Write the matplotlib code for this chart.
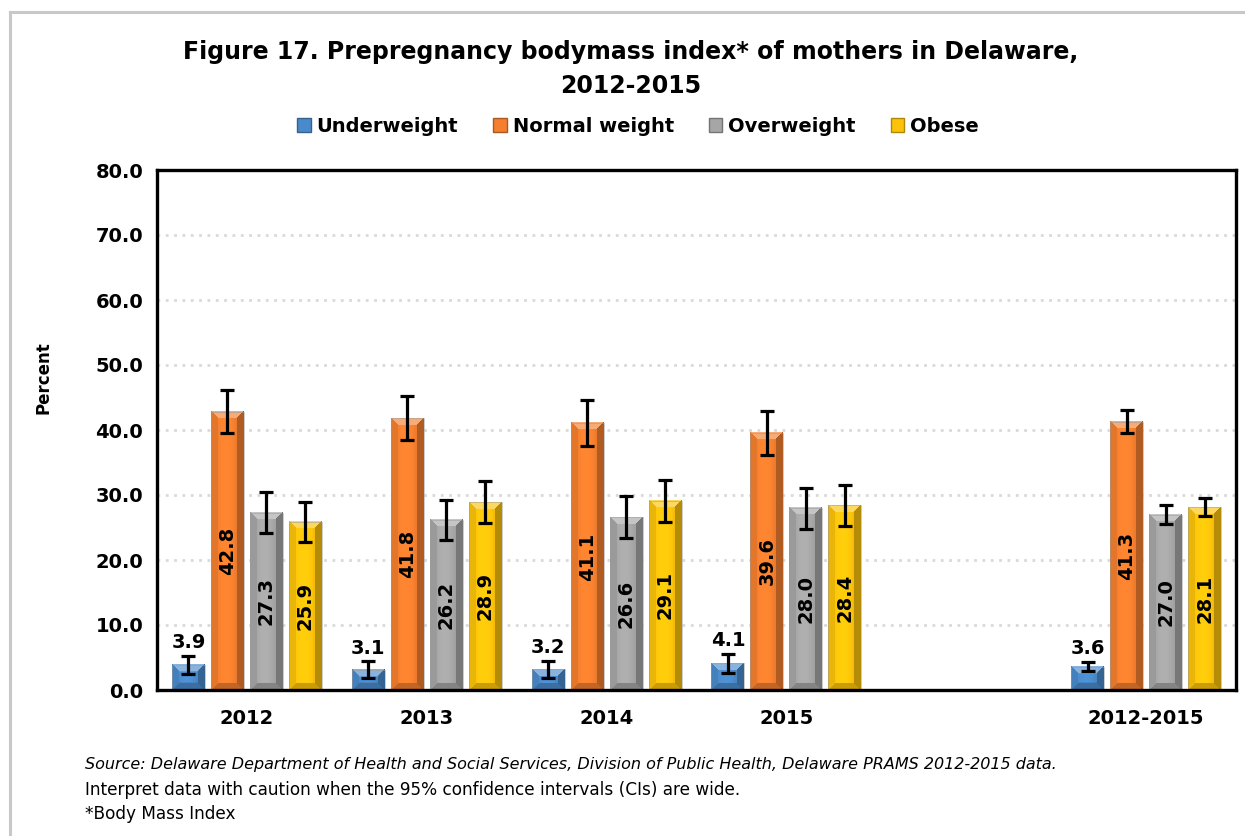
import numpy as np
import matplotlib
matplotlib.use("Agg")
import matplotlib.pyplot as plt
import matplotlib.colors as mcolors
from matplotlib.patches import Patch, Rectangle
from matplotlib.lines import Line2D

# data (percent, with 95% CI)
categories = ['2012', '2013', '2014', '2015', '2012-2015']
series = ['Underweight', 'Normal weight', 'Overweight', 'Obese']

underweight = [3.9, 3.1, 3.2, 4.1, 3.6]
under_lo = [2.5, 1.8, 1.8, 2.6, 2.9]
under_hi = [5.3, 4.4, 4.5, 5.5, 4.3]

normal = [42.8, 41.8, 41.1, 39.6, 41.3]
normal_lo = [39.5, 38.4, 37.6, 36.2, 39.5]
normal_hi = [46.2, 45.2, 44.6, 43.0, 43.1]

overweight = [27.3, 26.2, 26.6, 28.0, 27.0]
over_lo = [24.2, 23.1, 23.4, 24.8, 25.5]
over_hi = [30.4, 29.2, 29.8, 31.1, 28.5]

obese = [25.9, 28.9, 29.1, 28.4, 28.1]
obese_lo = [22.8, 25.7, 25.9, 25.3, 26.7]
obese_hi = [29.0, 32.1, 32.3, 31.5, 29.6]

values = [underweight, normal, overweight, obese]
lows = [under_lo, normal_lo, over_lo, obese_lo]
highs = [under_hi, normal_hi, over_hi, obese_hi]

colors = ['#4A8ACB', '#F47F2E', '#A6A6A6', '#FCC30A']

W, H = 1245, 836
fig = plt.figure(figsize=(W / 100, H / 100), dpi=100)
fig.patch.set_facecolor('white')

# light grey frame round the chart (left + top)
fig.add_artist(Line2D([10 / W, 10 / W], [0, 1 - 12 / H], transform=fig.transFigure,
                      color='#C8C8C8', lw=2.2))
fig.add_artist(Line2D([10 / W, 1], [1 - 12 / H, 1 - 12 / H], transform=fig.transFigure,
                      color='#C8C8C8', lw=2.2))

ax = fig.add_axes([157 / W, 1 - 690 / H, (1236 - 157) / W, (690 - 170) / H])
ax.set_xlim(-0.5, 5.5)
ax.set_ylim(0, 80)

# 6 slots, slot 4 left empty
slots = np.array([0, 1, 2, 3, 5])
pitch = 0.217
bw = 0.183

ax.set_yticks(np.arange(0, 81, 10))
ax.set_yticklabels([f'{v:.1f}' for v in np.arange(0, 81, 10)],
                   fontsize=14, fontweight='bold')
ax.tick_params(axis='y', length=0, pad=10)
ax.set_xticks(slots)
ax.set_xticklabels(categories, fontsize=14, fontweight='bold')
ax.tick_params(axis='x', length=0, pad=14)
for s in ax.spines.values():
    s.set_linewidth(2.4)
    s.set_color('black')
for yv in range(10, 80, 10):
    ax.axhline(yv, color='#D9D9D9', lw=2, ls=(0, (1, 2)), zorder=0)

ax.set_ylabel('Percent', fontsize=12, fontweight='bold')
ax.yaxis.set_label_coords(-104 / (1236 - 157), (690 - 378) / (690 - 170))


def bevel_img(color, wpx, hpx, b=7):
    base = np.array(mcolors.to_rgb(color))
    yy, xx = np.mgrid[0:hpx, 0:wpx] + 0.5
    d = np.stack([xx, wpx - xx, yy, hpx - yy])
    near = d.argmin(0)
    dmin = d.min(0)
    u = xx / wpx
    center = 1.06 - 0.9 * (u - 0.45) ** 2
    fac = np.array([0.93, 0.72, 1.0, 0.8])
    shade = np.where(dmin < b, fac[near], center)
    rgb = np.clip(base * shade[..., None], 0, 1)
    top = (dmin < b) & (near == 2)
    rgb[top] = rgb[top] + (1 - rgb[top]) * 0.35
    return rgb


fig.canvas.draw()
for i, (vals, lo, hi, c) in enumerate(zip(values, lows, highs, colors)):
    xs = slots + (i - 1.5) * pitch
    bars = ax.bar(xs, vals, width=bw, color=c, edgecolor='none', zorder=2)
    for rect in bars:
        x0, y0 = rect.get_x(), rect.get_y()
        w, h = rect.get_width(), rect.get_height()
        p0 = ax.transData.transform((x0, y0))
        p1 = ax.transData.transform((x0 + w, y0 + h))
        wpx = max(int(round(p1[0] - p0[0])), 2)
        hpx = max(int(round(p1[1] - p0[1])), 2)
        img = bevel_img(c, wpx, hpx, b=min(7, hpx // 2, wpx // 2))
        ax.imshow(img, extent=[x0, x0 + w, y0, y0 + h], aspect='auto',
                  interpolation='bilinear', zorder=2.1)
        ax.add_patch(Rectangle((x0, y0), w, h, fill=False, edgecolor='#9A9A9A',
                               lw=0.6, alpha=0.6, zorder=2.2))
    err = [np.array(vals) - np.array(lo), np.array(hi) - np.array(vals)]
    ax.errorbar(xs, vals, yerr=err, fmt='none', ecolor='black', elinewidth=2.3,
                capsize=4.8, capthick=2.3, zorder=4)
    for x, v, top in zip(xs, vals, hi):
        if i == 0:
            ax.text(x, top + 0.6, f'{v:.1f}', ha='center', va='bottom',
                    fontsize=14, fontweight='bold', zorder=5)
        else:
            ax.text(x, v / 2, f'{v:.1f}', ha='center', va='center', rotation=90,
                    fontsize=14, fontweight='bold', zorder=5)

ax.set_xlim(-0.5, 5.5)
ax.set_ylim(0, 80)

fig.text(631 / W, 1 - 52 / H, 'Figure 17. Prepregnancy bodymass index* of mothers in Delaware,',
         ha='center', va='center', fontsize=17, fontweight='bold')
fig.text(631 / W, 1 - 86 / H, '2012-2015', ha='center', va='center',
         fontsize=17, fontweight='bold')

handles = [Patch(facecolor=c, edgecolor=mcolors.to_hex(np.array(mcolors.to_rgb(c)) * 0.7))
           for c in colors]
fig.legend(handles, series, loc='center', bbox_to_anchor=(638 / W, 1 - 126 / H), ncol=4,
           frameon=False, prop={'size': 14, 'weight': 'bold'}, handlelength=0.7,
           handleheight=0.7, handletextpad=0.3, columnspacing=1.8)

fig.text(85 / W, 1 - 765 / H,
         'Source: Delaware Department of Health and Social Services, Division of Public Health, '
         'Delaware PRAMS 2012-2015 data.',
         ha='left', va='center', fontsize=11.5, style='italic')
fig.text(85 / W, 1 - 790 / H,
         'Interpret data with caution when the 95% confidence intervals (CIs) are wide.',
         ha='left', va='center', fontsize=12.2)
fig.text(85 / W, 1 - 814 / H, '*Body Mass Index', ha='left', va='center', fontsize=12.2)

fig.savefig('out.png', dpi=100, facecolor='white')
